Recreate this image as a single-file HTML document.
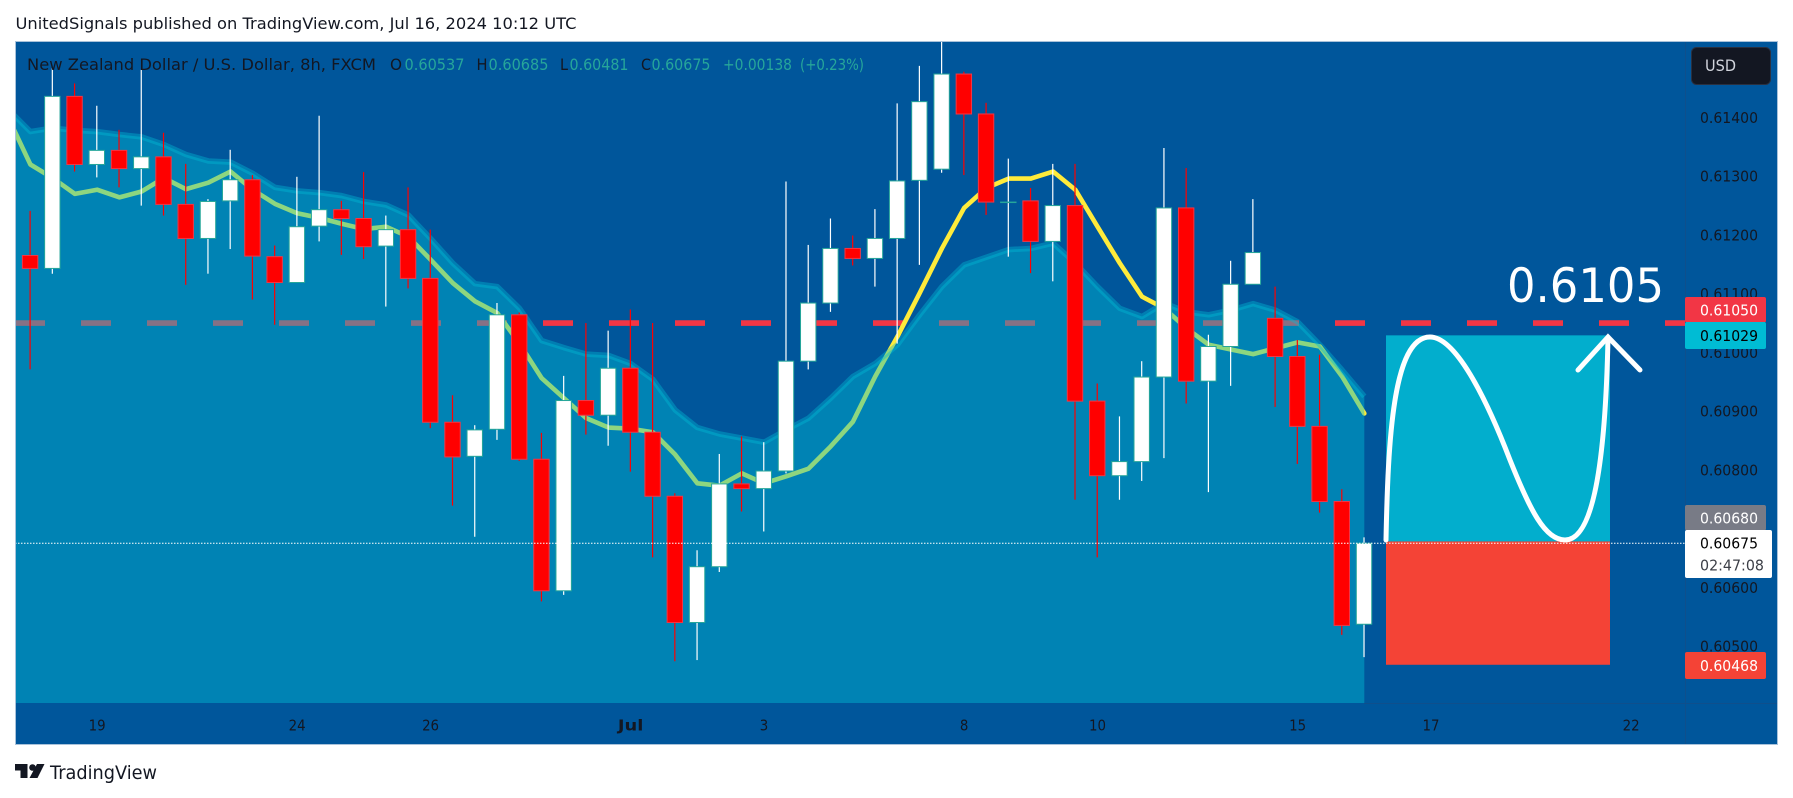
<!DOCTYPE html>
<html lang="en">
<head>
<meta charset="utf-8">
<title>NZD/USD 8h chart</title>
<style>
html,body{margin:0;padding:0;background:#fff;width:1793px;height:798px;overflow:hidden}
svg{display:block}
text{font-family:"DejaVu Sans","Liberation Sans",sans-serif}
</style>
</head>
<body>
<svg id="chart" xmlns="http://www.w3.org/2000/svg" width="1793" height="798" viewBox="0 0 1793 798">
  <defs>
    <clipPath id="plot-clip"><rect x="16" y="42" width="1669" height="661"/></clipPath>
  </defs>
  <rect x="0" y="0" width="1793" height="798" fill="#ffffff"/>
  <text x="15.5" y="29" font-size="16" fill="#131722" textLength="561" lengthAdjust="spacingAndGlyphs">UnitedSignals published on TradingView.com, Jul 16, 2024 10:12 UTC</text>
  <rect x="15.5" y="41.5" width="1762" height="703" fill="#00569b" stroke="#a9c2da" stroke-width="1"/>
  <g id="plot-layer" clip-path="url(#plot-clip)"></g>
  <line x1="1685.5" y1="42" x2="1685.5" y2="744" stroke="#0f4f8c" stroke-width="1"/>
  <line x1="1364" y1="703.5" x2="1777" y2="703.5" stroke="#0f4f8c" stroke-width="1"/>
  <g id="axis-layer"></g>

  <g font-size="16">
    <text x="27" y="70" fill="#131722" textLength="349" lengthAdjust="spacingAndGlyphs">New Zealand Dollar / U.S. Dollar, 8h, FXCM</text>
    <text x="390" y="70" fill="#131722" textLength="12" lengthAdjust="spacingAndGlyphs">O</text>
    <text x="404.5" y="70" fill="#26a69a" textLength="60" lengthAdjust="spacingAndGlyphs">0.60537</text>
    <text x="476.5" y="70" fill="#131722" textLength="11" lengthAdjust="spacingAndGlyphs">H</text>
    <text x="488.5" y="70" fill="#26a69a" textLength="60" lengthAdjust="spacingAndGlyphs">0.60685</text>
    <text x="560" y="70" fill="#131722" textLength="8" lengthAdjust="spacingAndGlyphs">L</text>
    <text x="569.5" y="70" fill="#26a69a" textLength="59" lengthAdjust="spacingAndGlyphs">0.60481</text>
    <text x="641" y="70" fill="#131722" textLength="10" lengthAdjust="spacingAndGlyphs">C</text>
    <text x="651.5" y="70" fill="#26a69a" textLength="59" lengthAdjust="spacingAndGlyphs">0.60675</text>
    <text x="723" y="70" fill="#26a69a" textLength="69" lengthAdjust="spacingAndGlyphs">+0.00138</text>
    <text x="800" y="70" fill="#26a69a" textLength="64" lengthAdjust="spacingAndGlyphs">(+0.23%)</text>
  </g>

  <g>
    <rect x="1691.5" y="47.5" width="79" height="37" rx="5" fill="#131722" stroke="#2a3040"/>
    <text x="1705" y="71" font-size="16" fill="#d1d4dc" textLength="31" lengthAdjust="spacingAndGlyphs">USD</text>
  </g>

  <text x="1507" y="302" font-size="47" fill="#ffffff" textLength="157" lengthAdjust="spacingAndGlyphs">0.6105</text>

  <g>
    <path fill="#131722" d="M15 764H27.5V778H20.5V770.5H15Z M37 764H44.5L37.5 778H29.5Z"/>
    <circle cx="32.5" cy="767.5" r="3.3" fill="#131722"/>
    <text x="50" y="779" font-size="19" fill="#131722" textLength="107" lengthAdjust="spacingAndGlyphs">TradingView</text>
  </g>
</svg>
<script>
// Candle data (prices)
const opens = [0.61165,0.61143,0.61436,0.61320,0.61344,0.61313,0.61333,0.61252,0.61194,0.61258,0.61294,0.61163,0.61119,0.61215,0.61243,0.61228,0.61181,0.61209,0.61126,0.60881,0.60823,0.60869,0.61064,0.60818,0.60594,0.60918,0.60893,0.60973,0.60864,0.60755,0.60540,0.60635,0.60776,0.60768,0.60798,0.60985,0.61084,0.61177,0.61160,0.61194,0.61293,0.61312,0.61474,0.61406,0.61256,0.61258,0.61189,0.61250,0.60917,0.60790,0.60814,0.60958,0.61246,0.60951,0.61010,0.61116,0.61058,0.60993,0.60874,0.60746,0.60537];
const highs = [0.61241,0.61484,0.61458,0.61420,0.61379,0.61481,0.61374,0.61321,0.61261,0.61345,0.61302,0.61182,0.61299,0.61403,0.61258,0.61307,0.61233,0.61281,0.61209,0.60927,0.60876,0.61084,0.61068,0.60863,0.60960,0.61050,0.61037,0.61073,0.61050,0.60760,0.60663,0.60827,0.60857,0.60847,0.61291,0.61183,0.61228,0.61199,0.61244,0.61424,0.61488,0.61535,0.61478,0.61425,0.61330,0.61280,0.61321,0.61321,0.60947,0.60891,0.60985,0.61348,0.61314,0.61030,0.61156,0.61261,0.61112,0.61021,0.60996,0.60767,0.60685];
const lows = [0.60971,0.61134,0.61308,0.61298,0.61281,0.61250,0.61233,0.61115,0.61134,0.61176,0.61090,0.61047,0.61119,0.61189,0.61166,0.61159,0.61078,0.61109,0.60871,0.60739,0.60686,0.60851,0.60815,0.60576,0.60587,0.60860,0.60841,0.60797,0.60651,0.60474,0.60476,0.60626,0.60729,0.60695,0.60794,0.60971,0.61069,0.61148,0.61112,0.61015,0.61149,0.61306,0.61302,0.61234,0.61163,0.61135,0.61121,0.60749,0.60651,0.60749,0.60781,0.60820,0.60913,0.60762,0.60943,0.61116,0.60907,0.60810,0.60727,0.60519,0.60481];
const closes = [0.61143,0.61436,0.61320,0.61344,0.61313,0.61333,0.61252,0.61194,0.61257,0.61294,0.61164,0.61119,0.61214,0.61243,0.61228,0.61180,0.61209,0.61126,0.60881,0.60822,0.60868,0.61064,0.60818,0.60594,0.60918,0.60893,0.60973,0.60864,0.60755,0.60540,0.60635,0.60776,0.60768,0.60798,0.60985,0.61084,0.61177,0.61160,0.61194,0.61292,0.61427,0.61474,0.61406,0.61256,0.61256,0.61189,0.61250,0.60917,0.60790,0.60814,0.60958,0.61246,0.60951,0.61010,0.61116,0.61170,0.60993,0.60874,0.60746,0.60535,0.60675];

// Indicator series: first value belongs to the bar just left of the visible range
const upperBand = [0.61414,0.61376,0.61382,0.61378,0.61376,0.61371,0.61367,0.61354,0.61337,0.61326,0.61324,0.61305,0.61281,0.61275,0.61272,0.61267,0.61257,0.61251,0.61234,0.61194,0.61152,0.61117,0.61112,0.61075,0.61020,0.61008,0.60997,0.60995,0.60981,0.60954,0.60902,0.60872,0.60861,0.60854,0.60847,0.60868,0.60888,0.60922,0.60959,0.60981,0.61013,0.61064,0.61112,0.61149,0.61162,0.61175,0.61177,0.61186,0.61152,0.61112,0.61075,0.61061,0.61084,0.61069,0.61064,0.61072,0.61083,0.61072,0.61052,0.61013,0.60970,0.60925];
const maLine = [0.61400,0.61320,0.61297,0.61270,0.61277,0.61264,0.61274,0.61297,0.61278,0.61289,0.61308,0.61277,0.61253,0.61237,0.61229,0.61219,0.61210,0.61214,0.61197,0.61158,0.61118,0.61087,0.61067,0.61015,0.60956,0.60922,0.60888,0.60872,0.60870,0.60864,0.60826,0.60777,0.60773,0.60794,0.60777,0.60789,0.60802,0.60840,0.60882,0.60959,0.61027,0.61101,0.61177,0.61246,0.61280,0.61296,0.61296,0.61308,0.61277,0.61214,0.61152,0.61095,0.61075,0.61041,0.61013,0.61005,0.60997,0.61007,0.61017,0.61010,0.60959,0.60896];

// Axis ticks
const priceTicks = [0.614,0.613,0.612,0.611,0.610,0.609,0.608,0.606,0.605];
const timeTickBars = [3,12,18,27,33,42,48,57,63,72];
const timeTickLabels = ['19','24','26','Jul','3','8','10','15','17','22'];

// Horizontal levels and long-position tool
const resistanceLevel = 0.6105;
const lastPrice = 0.60675;
const targetPrice = 0.61029;
const entryPrice = 0.60678;
const stopPrice = 0.60468;

function xScale(bar){ return 30.4 + 22.232 * bar; }
function yScale(price){ return 117.5 + (0.614 - price) * 58720; }

const NS = 'http://www.w3.org/2000/svg';
const plot = document.getElementById('plot-layer');
const axes = document.getElementById('axis-layer');
function make(tag, parent, attrs){
  const el = document.createElementNS(NS, tag);
  for (const k in attrs) el.setAttribute(k, attrs[k]);
  parent.appendChild(el);
  return el;
}

// Dashed resistance line under the area
const dashed = make('line', plot, {x1:15, x2:1685, y1:yScale(resistanceLevel), y2:yScale(resistanceLevel), stroke:'#f23645', 'stroke-width':5.6, 'stroke-dasharray':'30 36'});



// Moving average line
function seriesPoints(arr){ return arr.map(function(v,i){ return xScale(i-1).toFixed(2)+','+yScale(v).toFixed(2); }); }
const ma = make('polyline', plot, {points:seriesPoints(maLine).join(' '), fill:'none', stroke:'#ffeb3b', 'stroke-width':4.6, 'stroke-linejoin':'round', 'stroke-linecap':'round'});



// Area below upper band (translucent, tints what lies under it)
const bandPts = seriesPoints(upperBand);
const lastX = xScale(upperBand.length-2).toFixed(2);
const area = make('polygon', plot, {points:xScale(-1).toFixed(2)+',703 '+bandPts.join(' ')+' '+lastX+',703', fill:'#00bcd4', 'fill-opacity':0.447});


const band = make('polyline', plot, {points:bandPts.join(' '), fill:'none', stroke:'#00bcd4', 'stroke-opacity':0.4, 'stroke-width':5.5, 'stroke-linejoin':'round'});



// Long position tool
const targetZone = make('rect', plot, {x:1386, y:yScale(targetPrice), width:224, height:yScale(entryPrice)-yScale(targetPrice), fill:'#02aecd'});


const stopZone = make('rect', plot, {x:1386, y:yScale(entryPrice), width:224, height:yScale(stopPrice)-yScale(entryPrice), fill:'#f44336'});



// Candles
for (let i = 0; i < opens.length; i++) {
  const up = closes[i] >= opens[i];
  const cx = xScale(i) - 0.3;
  const g = make('g', plot, {});
  
  
  make('line', g, {x1:cx, x2:cx, y1:yScale(highs[i]), y2:yScale(lows[i]), stroke: up ? '#ffffff' : '#ff0000', 'stroke-width':1.2});
  const top = yScale(Math.max(opens[i], closes[i]));
  const bot = yScale(Math.min(opens[i], closes[i]));
  make('rect', g, {x:cx-7.7, y:top, width:15.4, height:Math.max(bot-top,0.5), fill: up ? '#ffffff' : '#ff0000', stroke: up ? '#26a69a' : '#f23645', 'stroke-width':1});
}

// Last price dotted line
const dotted = make('line', plot, {x1:15, x2:1685, y1:yScale(lastPrice), y2:yScale(lastPrice), stroke:'#ffffff', 'stroke-width':1, 'stroke-dasharray':'1.5 1.5'});



// Hand-drawn projection path and arrow
const curve = make('path', plot, {d:'M1386 540C1388 440 1393 337 1430 337C1455 337 1485 395 1510 460C1530 510 1545 540 1565 540C1590 540 1605 480 1608 338', fill:'none', stroke:'#ffffff', 'stroke-width':5, 'stroke-linecap':'round'});


const head = make('path', plot, {d:'M1578 370L1608 337L1640 370', fill:'none', stroke:'#ffffff', 'stroke-width':5, 'stroke-linecap':'round', 'stroke-linejoin':'miter'});



// Axis tick labels
priceTicks.forEach(function(p){
  const t = make('text', axes, {x:1700, y:yScale(p)+5.5, 'font-size':15, fill:'#131722', textLength:58, lengthAdjust:'spacingAndGlyphs'});
  
  
  t.textContent = p.toFixed(5);
});
timeTickBars.forEach(function(b,i){
  const t = make('text', axes, {x:xScale(b), y:730.5, 'font-size':15, fill:'#131722', 'text-anchor':'middle', 'font-weight': timeTickLabels[i]==='Jul' ? 'bold' : 'normal', textLength:timeTickLabels[i].length*8.5, lengthAdjust:'spacingAndGlyphs'});
  
  
  t.textContent = timeTickLabels[i];
});

// Price axis badges
function badge(name, price, y0, h, w, bg, fg){
  const r = make('rect', axes, {x:1685, y:y0, width:w, height:h, fill:bg, rx:2});
  
  
  const t = make('text', axes, {x:1700, y:y0+h/2+5.5, 'font-size':15, fill:fg, textLength:58, lengthAdjust:'spacingAndGlyphs'});
  
  
  t.textContent = price.toFixed(5);
}
badge('resistance-price-label', resistanceLevel, 297, 25.5, 81, '#f23645', '#ffffff');
badge('target-price-label', targetPrice, 322, 27, 81, '#00bcd4', '#000000');
badge('previous-price-label', 0.60680, 505, 25.5, 81, '#787b86', '#ffffff');
badge('stop-price-label', stopPrice, 652, 27, 81, '#f44336', '#ffffff');

const lastBox = make('rect', axes, {x:1685, y:530, width:87, height:48, fill:'#ffffff', rx:2});


const lastText = make('text', axes, {x:1700, y:548.5, 'font-size':15, fill:'#000000', textLength:58, lengthAdjust:'spacingAndGlyphs'});


lastText.textContent = lastPrice.toFixed(5);
const countdown = make('text', axes, {x:1700, y:570.5, 'font-size':15, fill:'#3c3f47', textLength:64, lengthAdjust:'spacingAndGlyphs'});


countdown.textContent = '02:47:08';
</script>
</body>
</html>
